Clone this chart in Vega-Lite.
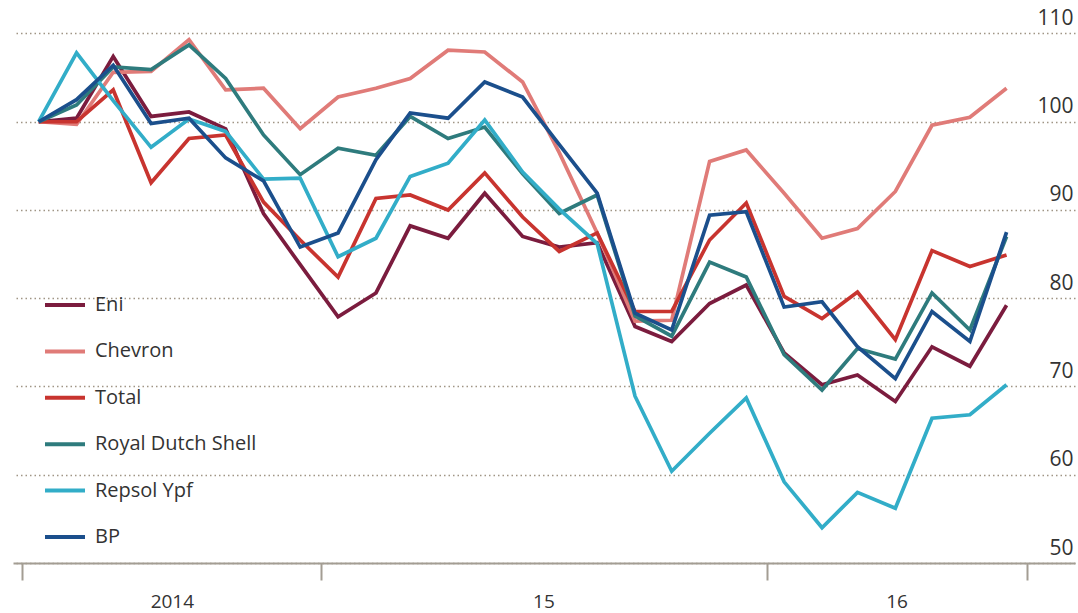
{
  "$schema": "https://vega.github.io/schema/vega-lite/v6.json",
  "width": 1062,
  "height": 556,
  "autosize": {"type": "none"},
  "padding": {"left": 13, "top": 7, "right": 3, "bottom": 50},
  "background": "white",
  "config": {
    "view": {"stroke": null},
    "font": "Open Sans"
  },
  "data": {
    "values": [
      {"date": "2014-05-15", "Eni": 100, "Chevron": 100, "Total": 100, "Royal Dutch Shell": 100, "Repsol Ypf": 100, "BP": 100},
      {"date": "2014-06-15", "Eni": 100.4, "Chevron": 99.7, "Total": 100.0, "Royal Dutch Shell": 101.9, "Repsol Ypf": 107.8, "BP": 102.5},
      {"date": "2014-07-15", "Eni": 107.4, "Chevron": 105.6, "Total": 103.6, "Royal Dutch Shell": 106.2, "Repsol Ypf": 102.4, "BP": 106.4},
      {"date": "2014-08-15", "Eni": 100.6, "Chevron": 105.7, "Total": 93.1, "Royal Dutch Shell": 105.9, "Repsol Ypf": 97.1, "BP": 99.8},
      {"date": "2014-09-15", "Eni": 101.1, "Chevron": 109.3, "Total": 98.1, "Royal Dutch Shell": 108.7, "Repsol Ypf": 100.3, "BP": 100.4},
      {"date": "2014-10-15", "Eni": 99.2, "Chevron": 103.6, "Total": 98.5, "Royal Dutch Shell": 104.9, "Repsol Ypf": 98.9, "BP": 95.9},
      {"date": "2014-11-15", "Eni": 89.6, "Chevron": 103.8, "Total": 90.9, "Royal Dutch Shell": 98.5, "Repsol Ypf": 93.5, "BP": 93.3},
      {"date": "2014-12-15", "Eni": 83.8, "Chevron": 99.2, "Total": 86.6, "Royal Dutch Shell": 94.0, "Repsol Ypf": 93.6, "BP": 85.8},
      {"date": "2015-01-15", "Eni": 77.9, "Chevron": 102.8, "Total": 82.4, "Royal Dutch Shell": 97.0, "Repsol Ypf": 84.7, "BP": 87.4},
      {"date": "2015-02-15", "Eni": 80.6, "Chevron": 103.8, "Total": 91.3, "Royal Dutch Shell": 96.2, "Repsol Ypf": 86.8, "BP": 95.7},
      {"date": "2015-03-15", "Eni": 88.2, "Chevron": 104.9, "Total": 91.7, "Royal Dutch Shell": 100.6, "Repsol Ypf": 93.8, "BP": 101.0},
      {"date": "2015-04-15", "Eni": 86.8, "Chevron": 108.1, "Total": 90.0, "Royal Dutch Shell": 98.1, "Repsol Ypf": 95.3, "BP": 100.4},
      {"date": "2015-05-15", "Eni": 91.9, "Chevron": 107.9, "Total": 94.2, "Royal Dutch Shell": 99.4, "Repsol Ypf": 100.2, "BP": 104.5},
      {"date": "2015-06-15", "Eni": 87.0, "Chevron": 104.5, "Total": 89.2, "Royal Dutch Shell": 94.1, "Repsol Ypf": 94.3, "BP": 102.8},
      {"date": "2015-07-15", "Eni": 85.8, "Chevron": 96.5, "Total": 85.3, "Royal Dutch Shell": 89.6, "Repsol Ypf": 90.1, "BP": 97.4},
      {"date": "2015-08-15", "Eni": 86.3, "Chevron": 87.4, "Total": 87.4, "Royal Dutch Shell": 91.7, "Repsol Ypf": 86.2, "BP": 91.9},
      {"date": "2015-09-15", "Eni": 76.8, "Chevron": 77.4, "Total": 78.5, "Royal Dutch Shell": 78.0, "Repsol Ypf": 68.9, "BP": 78.3},
      {"date": "2015-10-15", "Eni": 75.1, "Chevron": 77.5, "Total": 78.5, "Royal Dutch Shell": 75.7, "Repsol Ypf": 60.4, "BP": 76.4},
      {"date": "2015-11-15", "Eni": 79.4, "Chevron": 95.5, "Total": 86.6, "Royal Dutch Shell": 84.1, "Repsol Ypf": 64.7, "BP": 89.4},
      {"date": "2015-12-15", "Eni": 81.5, "Chevron": 96.8, "Total": 90.8, "Royal Dutch Shell": 82.4, "Repsol Ypf": 68.7, "BP": 89.8},
      {"date": "2016-01-15", "Eni": 73.8, "Chevron": 91.9, "Total": 80.2, "Royal Dutch Shell": 73.6, "Repsol Ypf": 59.2, "BP": 79.0},
      {"date": "2016-02-15", "Eni": 70.2, "Chevron": 86.8, "Total": 77.7, "Royal Dutch Shell": 69.6, "Repsol Ypf": 54.0, "BP": 79.6},
      {"date": "2016-03-15", "Eni": 71.3, "Chevron": 87.9, "Total": 80.7, "Royal Dutch Shell": 74.3, "Repsol Ypf": 58.0, "BP": 74.5},
      {"date": "2016-04-15", "Eni": 68.3, "Chevron": 92.1, "Total": 75.3, "Royal Dutch Shell": 73.1, "Repsol Ypf": 56.2, "BP": 70.9},
      {"date": "2016-05-15", "Eni": 74.5, "Chevron": 99.6, "Total": 85.4, "Royal Dutch Shell": 80.6, "Repsol Ypf": 66.4, "BP": 78.5},
      {"date": "2016-06-15", "Eni": 72.3, "Chevron": 100.5, "Total": 83.6, "Royal Dutch Shell": 76.4, "Repsol Ypf": 66.8, "BP": 75.1},
      {"date": "2016-07-15", "Eni": 79.2, "Chevron": 103.8, "Total": 84.9, "Royal Dutch Shell": 87.0, "Repsol Ypf": 70.2, "BP": 87.5}
    ]
  },
  "transform": [
    {"fold": ["Eni", "Chevron", "Total", "Royal Dutch Shell", "Repsol Ypf", "BP"], "as": ["company", "value"]}
  ],
  "mark": {"type": "line", "strokeWidth": 3.7},
  "encoding": {
    "x": {
      "field": "date",
      "type": "temporal",
      "scale": {"domain": [{"year": 2014, "month": 4, "date": 24}, {"year": 2016, "month": 9, "date": 9}]},
      "axis": {
        "title": null,
        "grid": false,
        "values": [
          {"year": 2014, "month": 5, "date": 1},
          {"year": 2014, "month": 9, "date": 1},
          {"year": 2015, "month": 1, "date": 1},
          {"year": 2015, "month": 7, "date": 2},
          {"year": 2016, "month": 1, "date": 1},
          {"year": 2016, "month": 4, "date": 16},
          {"year": 2016, "month": 8, "date": 1}
        ],
        "labelExpr": "month(datum.value)==8 ? '2014' : month(datum.value)==6 ? '15' : month(datum.value)==3 ? '16' : ''",
        "tickOpacity": {"condition": {"test": "month(datum.value)==8 || month(datum.value)==6 || month(datum.value)==3", "value": 0}, "value": 1},
        "tickSize": 17,
        "tickWidth": 2,
        "tickColor": "#a39d93",
        "domainColor": "#a39d93",
        "domainWidth": 2,
        "labelPadding": 12,
        "labelFontSize": 19,
        "labelColor": "#333333",
        "labelFlush": false,
        "labelOverlap": false
      }
    },
    "y": {
      "field": "value",
      "type": "quantitative",
      "scale": {"domain": [50, 113], "nice": false, "zero": false},
      "axis": {
        "title": null,
        "orient": "right",
        "values": [50, 60, 70, 80, 90, 100, 110],
        "grid": true,
        "gridDash": [1.5, 3],
        "gridColor": "#a09585",
        "gridWidth": 1.5,
        "domain": false,
        "ticks": false,
        "tickSize": 0,
        "labelAlign": "right",
        "labelBaseline": "alphabetic",
        "labelPadding": -2,
        "labelOffset": -9,
        "labelFontSize": 21,
        "labelColor": "#333333"
      }
    },
    "color": {
      "field": "company",
      "type": "nominal",
      "scale": {
        "domain": ["Eni", "Chevron", "Total", "Royal Dutch Shell", "Repsol Ypf", "BP"],
        "range": ["#7b1c3e", "#e07b78", "#c8342f", "#2e7b7d", "#32adc8", "#1b4f8c"]
      },
      "legend": {
        "title": null,
        "orient": "none",
        "legendX": 30,
        "legendY": 276,
        "direction": "vertical",
        "symbolType": "stroke",
        "symbolSize": 1600,
        "symbolStrokeWidth": 4,
        "labelFontSize": 20,
        "labelColor": "#333333",
        "labelOffset": 8,
        "labelLimit": 300,
        "rowPadding": 14.4,
        "padding": 0
      }
    }
  }
}
